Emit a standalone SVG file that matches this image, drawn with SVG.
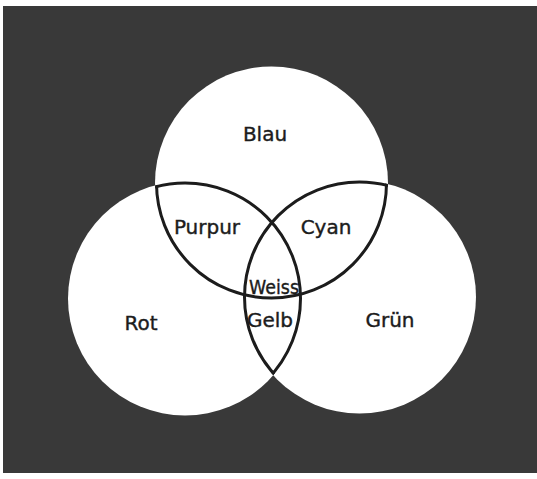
<svg xmlns="http://www.w3.org/2000/svg" width="537" height="479" viewBox="0 0 537 479">
<style>
.fill{fill:#ffffff;stroke:none}
.ring{fill:none;stroke:#1c1c1c;stroke-width:3}
text{font-family:"DejaVu Sans","Liberation Sans",sans-serif;font-size:20px;fill:#1c1c1c;stroke:#1c1c1c;stroke-width:0.4;text-anchor:middle}
</style>
<defs>
<clipPath id="inRG"><circle cx="185" cy="298.5" r="117"/><circle cx="359.5" cy="297" r="116.5"/></clipPath>
<clipPath id="inBG"><circle cx="271.5" cy="183" r="116.5"/><circle cx="359.5" cy="297" r="116.5"/></clipPath>
<clipPath id="inBR"><circle cx="271.5" cy="183" r="116.5"/><circle cx="185" cy="298.5" r="117"/></clipPath>
</defs>
<rect x="0" y="0" width="537" height="479" fill="#ffffff"/>
<rect id="background" x="3" y="6" width="534" height="467" fill="#393939"/>
<g id="fills">
<circle class="fill" cx="271.5" cy="183" r="116.5"/>
<circle class="fill" cx="185" cy="298.5" r="117"/>
<circle class="fill" cx="359.5" cy="297" r="116.5"/>
</g>
<g id="blau">
<circle class="ring" cx="271.5" cy="183" r="115" clip-path="url(#inRG)"/>
<text x="265" y="141">Blau</text>
</g>
<g id="rot">
<circle class="ring" cx="185" cy="298.5" r="115.5" clip-path="url(#inBG)"/>
<text x="141" y="330">Rot</text>
</g>
<g id="gruen">
<circle class="ring" cx="359.5" cy="297" r="115" clip-path="url(#inBR)"/>
<text x="390" y="327">Grün</text>
</g>
<g id="purpur"><text x="207" y="234">Purpur</text></g>
<g id="cyan"><text x="326" y="234">Cyan</text></g>
<g id="weiss"><text x="274" y="294" textLength="50" lengthAdjust="spacingAndGlyphs">Weiss</text></g>
<g id="gelb"><text x="270" y="327">Gelb</text></g>
</svg>
